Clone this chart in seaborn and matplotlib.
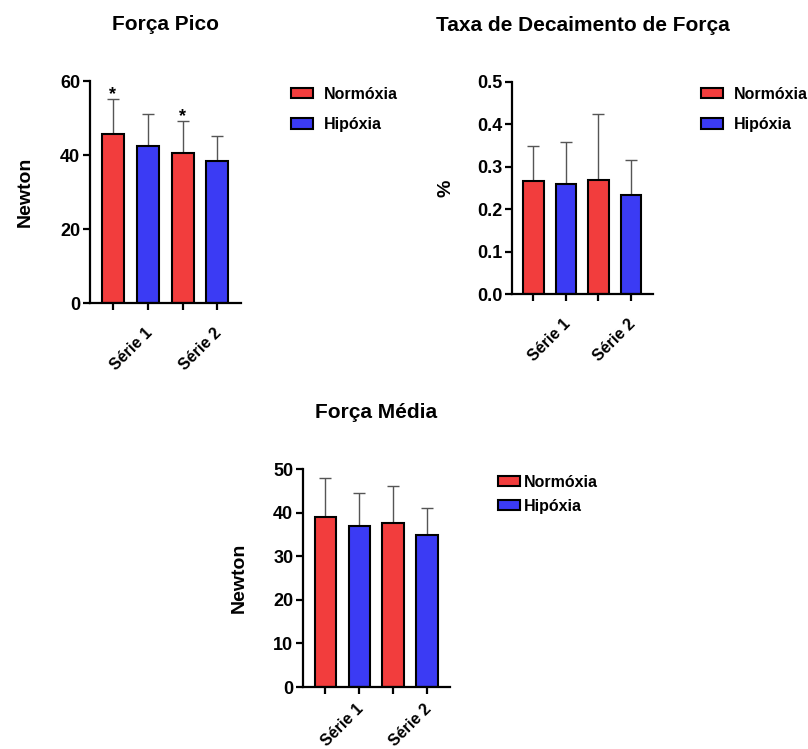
import numpy as np
import pandas as pd
import seaborn as sns
import matplotlib.pyplot as plt
from matplotlib.patches import Patch

sns.set_style("ticks")
plt.rcParams['font.family'] = ['Liberation Sans', 'DejaVu Sans']
plt.rcParams['font.weight'] = 'bold'
plt.rcParams['axes.labelweight'] = 'bold'
plt.rcParams['axes.titleweight'] = 'bold'
plt.rcParams['text.color'] = 'black'
plt.rcParams['axes.labelcolor'] = 'black'
plt.rcParams['xtick.color'] = 'black'
plt.rcParams['ytick.color'] = 'black'

# data
bars = ["N1", "H1", "N2", "H2"]
condition = ["Normóxia", "Hipóxia", "Normóxia", "Hipóxia"]
series_labels = ["", "Série 1 ", "", "Série 2 "]

pico_mean = [45.6, 42.4, 40.5, 38.4]
pico_sd = [9.5, 8.7, 8.6, 6.7]
pico_star = [True, False, True, False]

taxa_mean = [0.267, 0.260, 0.270, 0.234]
taxa_sd = [0.082, 0.098, 0.155, 0.081]

media_mean = [39.1, 36.9, 37.6, 34.8]
media_sd = [8.8, 7.6, 8.5, 6.3]

colors = {"Normóxia": "#F23D3D", "Hipóxia": "#3B3BF4"}

fig = plt.figure(figsize=(8.08, 7.49), dpi=100)


def panel(rect, mean, sd, title, ylabel, ylab_x, yticks, fmt, legend_xy, legend_kw,
          stars=None, xpad=9):
    ax = fig.add_axes(rect)
    df = pd.DataFrame({"bar": bars, "cond": condition, "val": mean})
    sns.barplot(data=df, x="bar", y="val", hue="cond", palette=colors, dodge=False,
                errorbar=None, width=0.63, edgecolor="black", linewidth=1.5,
                saturation=1, legend=False, ax=ax, zorder=2)
    x = np.arange(len(bars))
    ax.errorbar(x, mean, yerr=[np.zeros(len(sd)), sd], fmt="none", ecolor="#555555",
                elinewidth=1.0, capsize=4, capthick=1.0, zorder=1)
    if stars is not None:
        for i, s in enumerate(stars):
            if s:
                ax.text(i, mean[i] + sd[i], "*", ha="center", va="baseline",
                        fontsize=13, fontweight="bold")
    ax.set_xlim(-0.66, 3.68)
    ax.set_ylim(0, yticks[-1])
    ax.set_yticks(yticks)
    ax.set_yticklabels([fmt.format(v) for v in yticks], fontsize=13, fontweight="bold")
    ax.set_xticks(x)
    ax.set_xticklabels(series_labels, rotation=45, ha="right", va="top",
                       rotation_mode="anchor", fontsize=11.5, fontweight="bold")
    ax.set_xlabel("")
    ax.set_ylabel(ylabel, fontsize=14, fontweight="bold")
    ax.yaxis.set_label_coords(ylab_x, 0.5)
    ax.set_title(title, fontsize=15, fontweight="bold", pad=37)
    sns.despine(ax=ax)
    for s in ["left", "bottom"]:
        ax.spines[s].set_linewidth(1.6)
        ax.spines[s].set_color("black")
    ax.tick_params(width=1.6, length=5, color="black", pad=2)
    ax.tick_params(axis="x", pad=xpad)
    handles = [Patch(facecolor=colors["Normóxia"], edgecolor="black", linewidth=1.5, label="Normóxia"),
               Patch(facecolor=colors["Hipóxia"], edgecolor="black", linewidth=1.5, label="Hipóxia")]
    fig.legend(handles=handles, loc="upper left",
               bbox_to_anchor=(legend_xy[0] / 808, 1 - legend_xy[1] / 749),
               frameon=False, fontsize=11.5, handlelength=1.35, handleheight=0.6,
               borderpad=0, borderaxespad=0, **legend_kw)
    return ax


panel([90 / 808, 1 - 303 / 749, 151 / 808, 222 / 749], pico_mean, pico_sd,
      "Força Pico", "Newton", -0.375, [0, 20, 40, 60], "{:.0f}",
      (291, 87), dict(labelspacing=0.95, handletextpad=0.7), stars=pico_star)

panel([512 / 808, 1 - 294 / 749, 141 / 808, 212 / 749], taxa_mean, taxa_sd,
      "Taxa de Decaimento de Força", "%", -0.41, [0, 0.1, 0.2, 0.3, 0.4, 0.5], "{:.1f}",
      (701, 87), dict(labelspacing=0.95, handletextpad=0.7))

panel([303 / 808, 1 - 687 / 749, 147 / 808, 218 / 749], media_mean, media_sd,
      "Força Média", "Newton", -0.375, [0, 10, 20, 30, 40, 50], "{:.0f}",
      (498, 475), dict(labelspacing=0.55, handletextpad=0.3), xpad=3)

fig.savefig("out.png", dpi=100, facecolor="white")
